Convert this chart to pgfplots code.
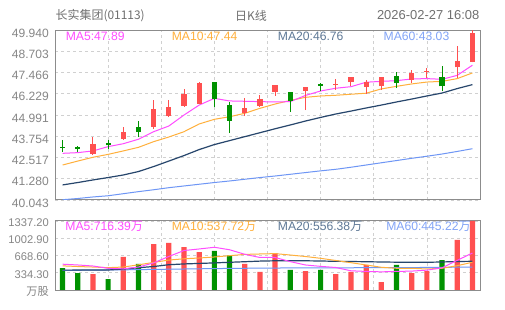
\documentclass[border=0pt]{standalone}
\usepackage{pgfplots}
\pgfplotsset{compat=1.18}
\usepackage{pgfplotstable}
\usepackage{fontspec}
\setmainfont{Liberation Sans}
\newfontfamily\cjk{Noto Sans CJK SC}
\definecolor{upred}{HTML}{FF5050}
\definecolor{dngreen}{HTML}{009200}
\definecolor{maA}{HTML}{FF4DFF}
\definecolor{maB}{HTML}{FFB03C}
\definecolor{maC}{HTML}{27466C}
\definecolor{maD}{HTML}{6E96F5}
\definecolor{maClab}{HTML}{5E7896}
\definecolor{maDlab}{HTML}{82A4F7}
\definecolor{gridc}{HTML}{D0D0D0}
\definecolor{framec}{HTML}{8C8C8C}
\definecolor{labc}{HTML}{868686}
\definecolor{headc}{HTML}{707070}

% candles: index, open, high, low, close
\pgfplotstableread{
x o h l c
2 42.72 43.69 42.68 43.30
4 43.59 44.29 43.54 44.00
6 44.31 45.87 44.18 45.34
7 44.95 45.87 44.89 45.46
8 45.53 46.49 45.48 46.23
9 45.65 46.90 45.61 46.84
12 45.09 45.96 44.95 45.40
13 45.53 46.16 45.48 45.92
14 46.35 46.75 46.10 46.74
16 46.41 46.63 45.27 46.62
18 46.77 47.07 46.45 46.80
19 46.90 47.19 46.68 47.19
20 46.64 47.03 46.20 46.90
21 46.66 47.21 46.46 47.20
23 47.05 47.61 46.87 47.44
24 47.51 47.73 47.15 47.55
26 47.76 49.01 47.15 48.11
27 48.08 49.94 48.06 49.77
}\redK
\pgfplotstableread{
x o h l c
0 43.15 43.54 42.86 43.08
1 43.11 43.19 42.86 43.01
3 43.38 43.52 43.03 43.23
5 44.31 44.64 43.69 44.00
10 46.91 46.92 45.44 45.94
11 45.57 45.77 43.93 44.66
15 46.33 46.34 45.18 45.82
17 46.80 46.84 46.41 46.70
22 47.25 47.50 46.55 46.84
25 47.20 47.83 46.37 46.66
}\greenK
\pgfplotstableread{
i m5 m10 m20 m60
0 42.76 42.08 40.92 40.06
1 42.80 42.31 41.06 40.13
2 42.90 42.53 41.21 40.22
3 43.15 42.70 41.35 40.29
4 43.32 42.90 41.50 40.41
5 43.58 43.11 41.70 40.53
6 44.02 43.44 41.99 40.64
7 44.35 43.71 42.31 40.76
8 44.99 44.02 42.63 40.86
9 45.57 44.47 42.98 40.96
10 45.96 44.74 43.27 41.06
11 45.81 44.89 43.50 41.15
12 45.79 45.09 43.73 41.25
13 45.77 45.38 43.96 41.35
14 45.75 45.63 44.19 41.44
15 45.77 45.84 44.41 41.54
16 46.13 46.02 44.64 41.64
17 46.39 46.10 44.85 41.74
18 46.55 46.14 45.05 41.83
19 46.64 46.20 45.22 41.95
20 46.90 46.26 45.40 42.08
21 46.95 46.51 45.57 42.21
22 46.99 46.66 45.75 42.34
23 47.09 46.80 45.92 42.47
24 47.11 46.91 46.10 42.59
25 47.07 46.95 46.27 42.72
26 47.30 47.11 46.53 42.87
27 47.89 47.44 46.76 43.03
}\maP
% volume (10k shares)
\pgfplotstableread{
x v
2 310
4 640
6 891
7 911
8 833
9 736
12 504
13 349
14 717
16 368
18 310
19 349
20 485
21 155
23 329
24 368
26 969
27 1337.2
}\redV
\pgfplotstableread{
x v
0 426
1 329
3 213
5 504
10 756
11 672
15 388
17 388
22 485
25 581
}\greenV
\pgfplotstableread{
i m5 m10 m20 m60
0 500 468 385 380
1 485 455 386 382
2 465 445 387 385
3 420 433 388 388
4 410 445 405 391
5 445 488 432 395
6 525 535 455 399
7 650 580 490 403
8 765 605 505 407
9 795 620 515 411
10 828 640 525 415
11 780 665 537 418
12 692 690 548 421
13 630 698 560 424
14 630 705 566 426
15 550 678 567 427
16 485 649 566 428
17 458 614 562 429
18 436 572 556 430
19 372 529 552 431
20 360 485 548 432
21 352 440 543 433
22 360 421 539 434
23 366 421 537 435
24 385 407 537 437
25 430 421 543 439
26 575 471 552 442
27 716.39 537.72 556.38 445.22
}\maV

\pgfplotsset{
  kbase/.style={
    scale only axis, anchor=south west, width=425bp,
    xmin=-0.5, xmax=27.5,
    xtick={3,6.5,10,13.5,17,20.5,24}, xticklabels={},
    major tick length=0pt,
    grid=major,
    major grid style={gridc, dash pattern=on 3bp off 3bp, line width=0.7bp},
    axis line style={framec, line width=1bp},
    yticklabel style={text=labc, anchor=east, inner sep=0pt, xshift=-7bp},
  },
  candle/.style 2 args={draw=none, mark=none, no markers, forget plot,
    error bars/y dir=plus, error bars/y explicit, error bars/error mark=none,
    error bars/error bar style={line width=#1, draw=#2, solid}},
}

\begin{document}
\begin{tikzpicture}
\path[use as bounding box, fill=white] (0,0) rectangle (505bp,310bp);

% header
\node[anchor=west, inner sep=0pt, text=headc] at (55.5bp,294bp) {\cjk\fontsize{12}{13}\selectfont 长实集团(01113)};
\node[anchor=center, inner sep=0pt, text=headc] at (251bp,294bp) {\cjk\fontsize{12}{13}\selectfont 日K线};
\node[anchor=east, inner sep=0pt, text=headc] at (479.5bp,294.5bp) {\fontsize{13}{14}\selectfont 2026-02-27 16:08};

% price panel
\begin{axis}[kbase, at={(55bp,110bp)}, height=170bp,
  ymin=40.043, ymax=49.940,
  ytick={40.043,41.280,42.517,43.754,44.991,46.229,47.466,48.703,49.940},
  yticklabels={40.043,41.280,42.517,43.754,44.991,46.229,47.466,48.703,49.940},
  yticklabel style={font=\fontsize{12.1}{13}\selectfont, yshift=-3bp, xshift=1bp},
]
\addplot[maD, line width=1bp, mark=none] table[x=i, y=m60] \maP;
\addplot[maC, line width=1.2bp, mark=none] table[x=i, y=m20] \maP;
\addplot[maB, line width=1bp, mark=none] table[x=i, y=m10] \maP;
\addplot[maA, line width=1bp, mark=none] table[x=i, y=m5] \maP;
% wicks
\addplot[candle={1bp}{upred}] table[x=x, y=l, y error plus expr=\thisrow{h}-\thisrow{l}] \redK;
\addplot[candle={1bp}{dngreen}] table[x=x, y=l, y error plus expr=\thisrow{h}-\thisrow{l}] \greenK;
% bodies
\addplot[candle={5.2bp}{upred}] table[x=x, y=o, y error plus expr=\thisrow{c}-\thisrow{o}] \redK;
\addplot[candle={5.2bp}{dngreen}] table[x=x, y=c, y error plus expr=\thisrow{o}-\thisrow{c}] \greenK;
% MA legend texts
\node[anchor=west, inner sep=0pt, text=maA, font=\fontsize{12.2}{13}\selectfont] at (axis description cs:0.025,0.965) {MA5:47.89};
\node[anchor=west, inner sep=0pt, text=maB, font=\fontsize{12.2}{13}\selectfont] at (axis description cs:0.2745,0.965) {MA10:47.44};
\node[anchor=west, inner sep=0pt, text=maClab, font=\fontsize{12.2}{13}\selectfont] at (axis description cs:0.524,0.965) {MA20:46.76};
\node[anchor=west, inner sep=0pt, text=maDlab, font=\fontsize{12.2}{13}\selectfont] at (axis description cs:0.773,0.965) {MA60:43.03};
% date labels
\node[anchor=west, inner sep=0pt, text=labc, font=\fontsize{12}{13}\selectfont] at (axis description cs:0,-0.038) {01/16};
\node[anchor=center, inner sep=0pt, text=labc, font=\fontsize{12}{13}\selectfont] at (axis description cs:0.5,-0.038) {02/05};
\node[anchor=east, inner sep=0pt, text=labc, font=\fontsize{12}{13}\selectfont] at (axis description cs:1,-0.038) {02/27};
\end{axis}

% volume panel
\begin{axis}[kbase, at={(55bp,20bp)}, height=69bp,
  ymin=0, ymax=1337.2,
  ytick={0,334.3,668.6,1002.9,1337.2},
  yticklabels={{\cjk 万股},334.30,668.60,1002.90,1337.20},
  yticklabel style={font=\fontsize{11.2}{12}\selectfont, yshift=-1.5bp, xshift=1bp},
]
\addplot[ybar, bar width=5.2bp, bar shift=0pt, fill=upred, draw=none, forget plot] table[x=x, y=v] \redV;
\addplot[ybar, bar width=5.2bp, bar shift=0pt, fill=dngreen, draw=none, forget plot] table[x=x, y=v] \greenV;
\addplot[maD, line width=1bp, mark=none] table[x=i, y=m60] \maV;
\addplot[maC, line width=1.2bp, mark=none] table[x=i, y=m20] \maV;
\addplot[maB, line width=1bp, mark=none] table[x=i, y=m10] \maV;
\addplot[maA, line width=1bp, mark=none] table[x=i, y=m5] \maV;
\node[anchor=west, inner sep=0pt, text=maA, font=\fontsize{12.2}{13}\selectfont] at (axis description cs:0.024,0.92) {MA5:716.39{\cjk 万}};
\node[anchor=west, inner sep=0pt, text=maB, font=\fontsize{12.2}{13}\selectfont] at (axis description cs:0.2745,0.92) {MA10:537.72{\cjk 万}};
\node[anchor=west, inner sep=0pt, text=maClab, font=\fontsize{12.2}{13}\selectfont] at (axis description cs:0.524,0.92) {MA20:556.38{\cjk 万}};
\node[anchor=west, inner sep=0pt, text=maDlab, font=\fontsize{12.2}{13}\selectfont] at (axis description cs:0.779,0.92) {MA60:445.22{\cjk 万}};
\end{axis}
\end{tikzpicture}
\end{document}
